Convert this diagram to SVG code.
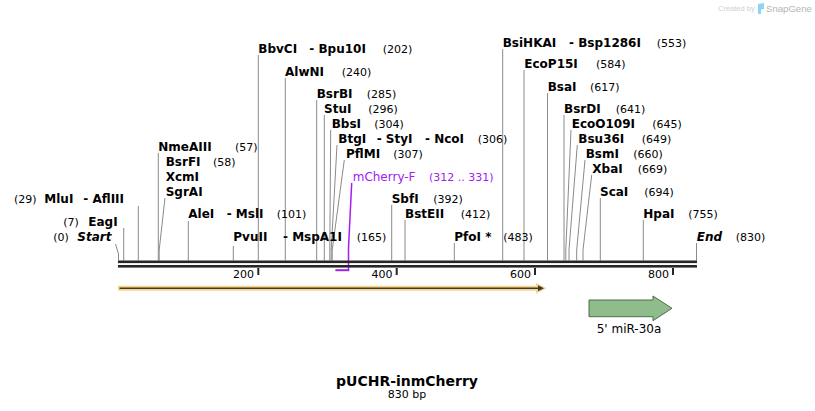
<svg xmlns="http://www.w3.org/2000/svg" width="815" height="411" viewBox="0 0 815 411">
<style>
.n{font-family:"DejaVu Sans",Verdana,sans-serif;font-weight:bold;font-size:12px;fill:#000}
.p{font-family:"DejaVu Sans",Verdana,sans-serif;font-size:11px;fill:#000}
.bi{font-style:italic}
.pr{font-family:"DejaVu Sans",Verdana,sans-serif;fill:#a020f0}
.ln{stroke:#8a8a8a;stroke-width:1;fill:none}
.tk{font-family:"DejaVu Sans",Verdana,sans-serif;font-size:11px;fill:#000;text-anchor:end}
</style>
<rect width="815" height="411" fill="#fff"/>

<g id="watermark">
<text x="718" y="11" font-family="Liberation Sans,Arial,sans-serif" font-size="7.5" fill="#cfcfcf">Created by</text>
<path d="M758,4 L764,3 L764,9 L761,9.5 L761,14 L758,14 Z" fill="#8fd3f6"/>
<text x="766" y="11.5" font-family="Liberation Sans,Arial,sans-serif" font-size="9.6" fill="#b5b5b5">SnapGene</text>
</g>

<g id="connectors">
<polyline class="ln" points="118.5,260.5 118.5,254 115.5,244"/>
<line class="ln" x1="123.7" y1="228" x2="123.7" y2="260.5"/>
<line class="ln" x1="138.3" y1="206" x2="138.3" y2="260.5"/>
<line class="ln" x1="158.3" y1="153" x2="158.3" y2="260.5"/>
<polyline class="ln" points="159.2,260.5 159.2,250 165,198"/>
<line class="ln" x1="188.3" y1="221" x2="188.3" y2="260.5"/>
<line class="ln" x1="233.3" y1="246" x2="233.3" y2="260.5"/>
<line class="ln" x1="258.3" y1="55" x2="258.3" y2="260.5"/>
<line class="ln" x1="285.3" y1="78" x2="285.3" y2="260.5"/>
<line class="ln" x1="316.7" y1="100" x2="316.7" y2="260.5"/>
<line class="ln" x1="324.3" y1="115" x2="324.3" y2="260.5"/>
<polyline class="ln" points="329.8,260.5 329.8,250 330.7,130"/>
<polyline class="ln" points="331.2,260.5 331.2,250 337,145"/>
<polyline class="ln" points="332.2,260.5 332.2,250 344.3,160"/>
<line class="ln" x1="391.7" y1="205" x2="391.7" y2="260.5"/>
<line class="ln" x1="405" y1="220" x2="405" y2="260.5"/>
<line class="ln" x1="454.3" y1="243" x2="454.3" y2="260.5"/>
<line class="ln" x1="502.7" y1="49" x2="502.7" y2="260.5"/>
<line class="ln" x1="524" y1="70" x2="524" y2="260.5"/>
<line class="ln" x1="547.5" y1="93" x2="547.5" y2="260.5"/>
<line class="ln" x1="564" y1="115" x2="564" y2="260.5"/>
<polyline class="ln" points="565.8,260.5 565.8,250 571,130"/>
<polyline class="ln" points="569,260.5 569,250 577.3,145"/>
<polyline class="ln" points="576.7,260.5 576.7,250 585,160"/>
<polyline class="ln" points="583,260.5 583,250 591.7,175"/>
<line class="ln" x1="600.3" y1="198" x2="600.3" y2="260.5"/>
<line class="ln" x1="643.3" y1="220" x2="643.3" y2="260.5"/>
<line class="ln" x1="696.5" y1="243" x2="696.5" y2="260.5"/>
<polyline points="348.5,270 348.5,248 351.7,183" fill="none" stroke="#a020f0" stroke-width="1.5"/>
</g>

<g id="backbone">
<rect x="118" y="260.5" width="579" height="2.6" fill="#262626"/>
<rect x="118" y="265" width="579" height="2.6" fill="#262626"/>
<rect x="257.3" y="268" width="2" height="7" fill="#262626"/>
<rect x="395.7" y="268" width="2" height="7" fill="#262626"/>
<rect x="534" y="268" width="2" height="7" fill="#262626"/>
<rect x="672" y="268" width="2" height="7" fill="#262626"/>
<text class="tk" x="254" y="278">200</text>
<text class="tk" x="392.5" y="278">400</text>
<text class="tk" x="531" y="278">600</text>
<text class="tk" x="669" y="278">800</text>
</g>

<g id="site-Start"><text class="p" x="53.3" y="241">(0)</text><text class="n bi" x="77.3" y="241">Start</text></g>
<g id="site-EagI"><text class="p" x="63.3" y="226">(7)</text><text class="n" x="88.3" y="226">EagI</text></g>
<g id="site-MluI"><text class="p" x="14" y="203">(29)</text><text class="n" x="44.3" y="203">MluI</text><text class="n" x="83.3" y="203">- AflIII</text></g>
<g id="site-NmeAIII"><text class="n" x="158.3" y="151">NmeAIII</text><text class="p" x="235" y="151">(57)</text></g>
<g id="site-BsrFI"><text class="n" x="165.7" y="166">BsrFI</text><text class="p" x="213" y="166">(58)</text><text class="n" x="165.7" y="181">XcmI</text><text class="n" x="165.7" y="196">SgrAI</text></g>
<g id="site-AleI"><text class="n" x="188.3" y="218">AleI</text><text class="n" x="226.7" y="218">- MslI</text><text class="p" x="276.7" y="218">(101)</text></g>
<g id="site-PvuII"><text class="n" x="233.3" y="241">PvuII</text><text class="n" x="283" y="241">- MspA1I</text><text class="p" x="356.7" y="241">(165)</text></g>
<g id="site-BbvCI"><text class="n" x="258.3" y="53">BbvCI</text><text class="n" x="309.3" y="53">- Bpu10I</text><text class="p" x="382.7" y="53">(202)</text></g>
<g id="site-AlwNI"><text class="n" x="285" y="76">AlwNI</text><text class="p" x="341.7" y="76">(240)</text></g>
<g id="site-BsrBI"><text class="n" x="316.7" y="98">BsrBI</text><text class="p" x="366.7" y="98">(285)</text></g>
<g id="site-StuI"><text class="n" x="324" y="113">StuI</text><text class="p" x="368.3" y="113">(296)</text></g>
<g id="site-BbsI"><text class="n" x="331.7" y="128">BbsI</text><text class="p" x="374.3" y="128">(304)</text></g>
<g id="site-BtgI"><text class="n" x="338.3" y="143">BtgI</text><text class="n" x="376.7" y="143">- StyI</text><text class="n" x="425" y="143">- NcoI</text><text class="p" x="477.7" y="143">(306)</text></g>
<g id="site-PflMI"><text class="n" x="346" y="158">PflMI</text><text class="p" x="393.3" y="158">(307)</text></g>
<g id="primer-mCherry-F"><rect x="335.4" y="269.2" width="13.8" height="2" fill="#a020f0"/><text class="pr" x="352.7" y="181" font-size="12">mCherry-F</text><text class="pr" x="429" y="181" font-size="11">(312 .. 331)</text></g>
<g id="site-SbfI"><text class="n" x="391.7" y="203">SbfI</text><text class="p" x="433.3" y="203">(392)</text></g>
<g id="site-BstEII"><text class="n" x="405" y="218">BstEII</text><text class="p" x="460.7" y="218">(412)</text></g>
<g id="site-PfoI"><text class="n" x="454.3" y="241">PfoI *</text><text class="p" x="503.3" y="241">(483)</text></g>
<g id="site-BsiHKAI"><text class="n" x="502.7" y="47">BsiHKAI</text><text class="n" x="569" y="47">- Bsp1286I</text><text class="p" x="656.7" y="47">(553)</text></g>
<g id="site-EcoP15I"><text class="n" x="524.3" y="68">EcoP15I</text><text class="p" x="596" y="68">(584)</text></g>
<g id="site-BsaI"><text class="n" x="547.7" y="91">BsaI</text><text class="p" x="590" y="91">(617)</text></g>
<g id="site-BsrDI"><text class="n" x="564" y="113">BsrDI</text><text class="p" x="615.7" y="113">(641)</text></g>
<g id="site-EcoO109I"><text class="n" x="571.7" y="128">EcoO109I</text><text class="p" x="652.3" y="128">(645)</text></g>
<g id="site-Bsu36I"><text class="n" x="578.3" y="143">Bsu36I</text><text class="p" x="641.7" y="143">(649)</text></g>
<g id="site-BsmI"><text class="n" x="585.7" y="158">BsmI</text><text class="p" x="633.3" y="158">(660)</text></g>
<g id="site-XbaI"><text class="n" x="592.3" y="173">XbaI</text><text class="p" x="637.7" y="173">(669)</text></g>
<g id="site-ScaI"><text class="n" x="600" y="196">ScaI</text><text class="p" x="644.3" y="196">(694)</text></g>
<g id="site-HpaI"><text class="n" x="643.3" y="218">HpaI</text><text class="p" x="688.3" y="218">(755)</text></g>
<g id="site-End"><text class="n bi" x="696.7" y="241">End</text><text class="p" x="735.7" y="241">(830)</text></g>

<g id="feature-orf">
<path d="M118,288.3 H540" stroke="#fcd587" stroke-width="5" fill="none"/>
<polygon points="536,282.8 546.5,288.3 536,293.8" fill="#fcd587"/>
<path d="M119.5,288.3 H540" stroke="#3a3a3a" stroke-width="1.6" fill="none"/>
<polygon points="538,285.3 544,288.3 538,291.3" fill="#3a3a3a"/>
</g>

<g id="feature-miR30a">
<polygon points="589,300 653,300 653,296 672,308.3 653,320.7 653,316.7 589,316.7" fill="#8fbc8b" stroke="#4f6b4f" stroke-width="1"/>
<text x="629" y="333" text-anchor="middle" font-family="DejaVu Sans,Verdana,sans-serif" font-size="12" fill="#000">5' miR-30a</text>
</g>

<g id="title">
<text x="407" y="386" text-anchor="middle" font-family="DejaVu Sans,Verdana,sans-serif" font-weight="bold" font-size="14" fill="#000">pUCHR-inmCherry</text>
<text x="407" y="397.5" text-anchor="middle" font-family="DejaVu Sans,Verdana,sans-serif" font-size="11" fill="#000">830 bp</text>
</g>
</svg>
